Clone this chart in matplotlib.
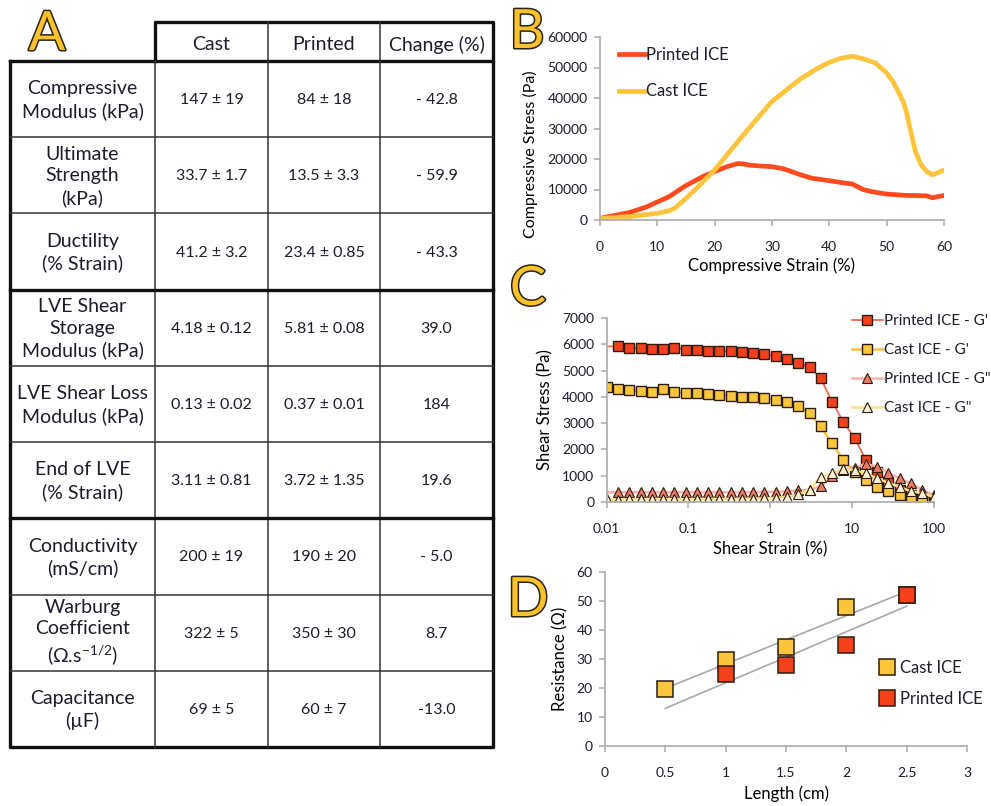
import numpy as np
import matplotlib.pyplot as plt
import matplotlib.patheffects as pe

plt.rcParams['font.family'] = ['Lato', 'DejaVu Sans']
plt.rcParams['mathtext.fontset'] = 'custom'
plt.rcParams['mathtext.rm'] = 'Lato'
plt.rcParams['text.color'] = '#1c1c2a'

W, H = 991, 806

# ---- panel A table data
col_labels = ['Cast', 'Printed', 'Change (%)']
row_labels = ['Compressive\nModulus (kPa)', 'Ultimate\nStrength\n(kPa)', 'Ductility\n(% Strain)',
              'LVE Shear\nStorage\nModulus (kPa)', 'LVE Shear Loss\nModulus (kPa)', 'End of LVE\n(% Strain)',
              'Conductivity\n(mS/cm)', 'Warburg\nCoefficient\n(Ω.s$^{-1/2}$)', 'Capacitance\n(µF)']
cast_vals = ['147 ± 19', '33.7 ± 1.7', '41.2 ± 3.2', '4.18 ± 0.12', '0.13 ± 0.02', '3.11 ± 0.81',
             '200 ± 19', '322 ± 5', '69 ± 5']
printed_vals = ['84 ± 18', '13.5 ± 3.3', '23.4 ± 0.85', '5.81 ± 0.08', '0.37 ± 0.01', '3.72 ± 1.35',
                '190 ± 20', '350 ± 30', '60 ± 7']
change_vals = ['- 42.8', '- 59.9', '- 43.3', '39.0', '184', '19.6', '- 5.0', '8.7', '-13.0']

# ---- panel B: compression curves
printed_strain = [0, 2, 5, 8, 10, 12, 15, 18, 20, 22, 24, 25, 26, 28, 30, 32, 35, 37, 40, 42, 44,
                  46, 48, 50, 53, 55, 57, 58, 59, 60]
printed_stress = [550, 1300, 2400, 4200, 5900, 7600, 11300, 14300, 15900, 17400, 18500, 18400, 18000,
                  17700, 17500, 16800, 14800, 13700, 12900, 12300, 11800, 9900, 9100, 8500, 8100,
                  8000, 7900, 7300, 7700, 8000]
cast_strain = [0, 5, 10, 12, 13, 15, 17, 20, 25, 30, 35, 38, 40, 42, 44, 46, 48, 50, 51, 52, 53,
               53.5, 54, 55, 56, 57, 58, 59, 60]
cast_stress = [500, 1100, 2200, 3000, 3800, 7100, 10700, 16400, 27900, 38900, 46300, 49800, 51700,
               53000, 53700, 52800, 51500, 48200, 45700, 42200, 38300, 35000, 30700, 22500, 18100,
               15900, 14800, 15600, 16400]

# ---- panel C: strain sweep
shear_strain = [0.01, 0.01374, 0.01888, 0.02593, 0.03562, 0.04894, 0.06723, 0.09237, 0.1269, 0.1743,
                0.2395, 0.329, 0.452, 0.621, 0.8532, 1.172, 1.61, 2.212, 3.039, 4.175, 5.736, 7.88,
                10.83, 14.87, 20.43, 28.07, 38.57, 52.98, 72.79, 100]
printed_g1 = [5920, 5920, 5860, 5860, 5820, 5820, 5870, 5800, 5770, 5760, 5760, 5730, 5720, 5680, 5630,
              5540, 5430, 5280, 5140, 4700, 3820, 3045, 2430, 1600, 1130, 750, 450, 280, 180, 130]
cast_g1 = [4390, 4280, 4265, 4215, 4200, 4315, 4175, 4150, 4150, 4090, 4075, 4050, 4010, 3990, 3950,
           3880, 3800, 3635, 3385, 2880, 2230, 1600, 1150, 850, 580, 415, 265, 165, 100, 75]
printed_g2 = [370, 370, 375, 370, 375, 370, 375, 370, 375, 370, 370, 375, 370, 380, 385, 390, 410, 440,
              470, 590, 1000, 1230, 1300, 1460, 1335, 1110, 895, 705, 455, 265]
cast_g2 = [100, 90, 110, 110, 120, 115, 120, 110, 120, 120, 120, 125, 125, 130, 135, 150, 200, 290,
           470, 955, 1085, 1240, 1210, 1085, 895, 730, 555, 415, 330, 200]

# ---- panel D: resistance vs length
cast_len = [0.5, 1, 1.5, 2, 2.5]
cast_res = [19.5, 29.5, 34, 48, 52]
printed_len = [1, 1.5, 2, 2.5]
printed_res = [25, 28, 35, 52]

RED = '#f4411c'
YEL = '#fcc63c'
EDGE = '#2a1c10'
SPINE = '#b0b0b0'
TICK = '#1c1c2a'

fig = plt.figure(figsize=(W / 100, H / 100), dpi=100)


def fx(x):
    return x / W


def fy(y):
    return 1 - y / H


def rect(x0, y0, x1, y1):
    return [fx(x0), fy(y1), fx(x1) - fx(x0), fy(y0) - fy(y1)]


def panel_letter(ch, x, y):
    fig.text(fx(x), fy(y), ch, ha='center', va='baseline', fontsize=39, color='#f9c12a',
             path_effects=[pe.withStroke(linewidth=2.2, foreground='#2a2418')])


def style_axes(ax):
    for s in ['top', 'right']:
        ax.spines[s].set_visible(False)
    for s in ['left', 'bottom']:
        ax.spines[s].set_color(SPINE)
        ax.spines[s].set_linewidth(1.3)
    ax.tick_params(colors=SPINE, labelcolor=TICK, labelsize=10, length=4, width=1.2, pad=5)
    ax.tick_params(axis='x', pad=11)


# ================= panel A: table
axT = fig.add_axes([0, 0, 1, 1])
axT.set_xlim(0, W)
axT.set_ylim(H, 0)
axT.axis('off')

col_x = [10, 155, 268, 380, 493]
top_y, head_y, bot_y = 22, 61, 747
n_rows = len(row_labels)
row_y = np.linspace(head_y, bot_y, n_rows + 1)
thick, thin = 2.4, 1.1
# header box
axT.plot([col_x[1], col_x[1], col_x[4], col_x[4]], [head_y, top_y, top_y, head_y], color='#111', lw=thick,
         solid_capstyle='projecting')
for cx in col_x[2:4]:
    axT.plot([cx, cx], [top_y, head_y], color='#333', lw=thin)
# body outline
axT.plot([col_x[0], col_x[4], col_x[4], col_x[0], col_x[0]], [head_y, head_y, bot_y, bot_y, head_y],
         color='#111', lw=thick, solid_capstyle='projecting')
for cx in col_x[1:4]:
    axT.plot([cx, cx], [head_y, bot_y], color='#333', lw=thin)
for i, ry in enumerate(row_y[1:-1], start=1):
    axT.plot([col_x[0], col_x[4]], [ry, ry], color='#111' if i % 3 == 0 else '#333',
             lw=thick if i % 3 == 0 else thin)

for j, lab in enumerate(col_labels):
    axT.text((col_x[j + 1] + col_x[j + 2]) / 2, (top_y + head_y) / 2 + 3, lab, ha='center', va='center',
             fontsize=14)
for i in range(n_rows):
    cy = (row_y[i] + row_y[i + 1]) / 2
    axT.text((col_x[0] + col_x[1]) / 2, cy + 1, row_labels[i], ha='center', va='center', fontsize=14,
             linespacing=1.32)
    for j, vals in enumerate([cast_vals, printed_vals, change_vals]):
        axT.text((col_x[j + 1] + col_x[j + 2]) / 2, cy + 1, vals[i], ha='center', va='center', fontsize=11.5)

panel_letter('A', 47, 50)

# ================= panel B
axB = fig.add_axes(rect(600, 37, 944, 220))
axB.plot(printed_strain, printed_stress, color='#ff4a1e', lw=3.4, label='Printed ICE')
axB.plot(cast_strain, cast_stress, color='#fdc43c', lw=3.4, label='Cast ICE')
axB.set_xlim(0, 60)
axB.set_ylim(0, 60000)
axB.set_xticks(range(0, 61, 10))
axB.set_yticks(range(0, 60001, 10000))
style_axes(axB)
axB.set_xlabel('Compressive Strain (%)', fontsize=12, labelpad=3)
axB.set_ylabel('Compressive Stress (Pa)', fontsize=11.5)
axB.yaxis.set_label_coords(-0.18, 0.36)
axB.legend(loc='upper left', bbox_to_anchor=(fx(612), fy(40)), bbox_transform=fig.transFigure,
           frameon=False, fontsize=12, handlelength=1.6, handletextpad=0.05, labelspacing=1.25,
           borderaxespad=0)
panel_letter('B', 527, 48)

# ================= panel C
axC = fig.add_axes(rect(606.7, 318, 933.5, 502))
axC.set_xscale('log')
axC.plot(shear_strain, printed_g1, color='#f26a50', lw=1.3, marker='s', ms=7, mfc=RED, mec=EDGE, mew=1,
         markevery=list(range(1, len(shear_strain))), label="Printed ICE - G'")
axC.plot(shear_strain, cast_g1, color='#f9c23a', lw=1.8, marker='s', ms=7, mfc=YEL, mec=EDGE, mew=1,
         label="Cast ICE - G'")
axC.plot(shear_strain, printed_g2, color='#f9b0a6', lw=1.8, marker='^', ms=7, mfc='#ec7a64', mec=EDGE,
         mew=0.8, markevery=list(range(1, len(shear_strain))), label='Printed ICE - G"')
axC.plot(shear_strain, cast_g2, color='#fbe08a', lw=1.8, marker='^', ms=7, mfc='#fdf1d2', mec=EDGE,
         mew=0.8, label='Cast ICE - G"')
axC.set_xlim(0.01, 100)
axC.set_ylim(0, 7000)
axC.set_xticks([0.01, 0.1, 1, 10, 100])
axC.set_xticklabels(['0.01', '0.1', '1', '10', '100'])
axC.minorticks_off()
axC.set_yticks(range(0, 7001, 1000))
style_axes(axC)
axC.set_xlabel('Shear Strain (%)', fontsize=12, labelpad=5)
axC.set_ylabel('Shear Stress (Pa)', fontsize=12, labelpad=6)
fig.legend(handles=axC.get_lines(), loc='upper left', bbox_to_anchor=(fx(846), fy(308)), frameon=False,
           fontsize=11, handlelength=2.0, handletextpad=0.1, labelspacing=0.98, borderaxespad=0)
panel_letter('C', 528, 305)

# ================= panel D
axD = fig.add_axes(rect(605, 572, 967, 746))
cf = np.polyfit(cast_len, cast_res, 1)
pf = np.polyfit(printed_len, printed_res, 1)
fit_x = np.array([0.5, 2.5])
axD.plot(fit_x, np.polyval(cf, fit_x), color='#a8a8a8', lw=1.2, zorder=1)
axD.plot(fit_x, np.polyval(pf, fit_x), color='#a8a8a8', lw=1.2, zorder=1)
axD.plot(cast_len, cast_res, ls='none', marker='s', ms=11, mfc=YEL, mec=EDGE, mew=1.1, label='Cast ICE')
axD.plot(printed_len, printed_res, ls='none', marker='s', ms=11, mfc=RED, mec=EDGE, mew=1.1,
         label='Printed ICE')
axD.set_xlim(0, 3)
axD.set_ylim(0, 60)
axD.set_xticks([0, 0.5, 1, 1.5, 2, 2.5, 3])
axD.set_xticklabels(['0', '0.5', '1', '1.5', '2', '2.5', '3'])
axD.set_yticks(range(0, 61, 10))
style_axes(axD)
axD.set_xlabel('Length (cm)', fontsize=12, labelpad=5)
axD.set_ylabel('Resistance (Ω)', fontsize=12, labelpad=6)
axD.legend(loc='upper left', bbox_to_anchor=(fx(872), fy(653)), bbox_transform=fig.transFigure,
           frameon=False, fontsize=12, handlelength=1.0, handletextpad=0.3, labelspacing=0.9,
           borderaxespad=0)
panel_letter('D', 528, 616)

fig.savefig('out.png', dpi=100)
